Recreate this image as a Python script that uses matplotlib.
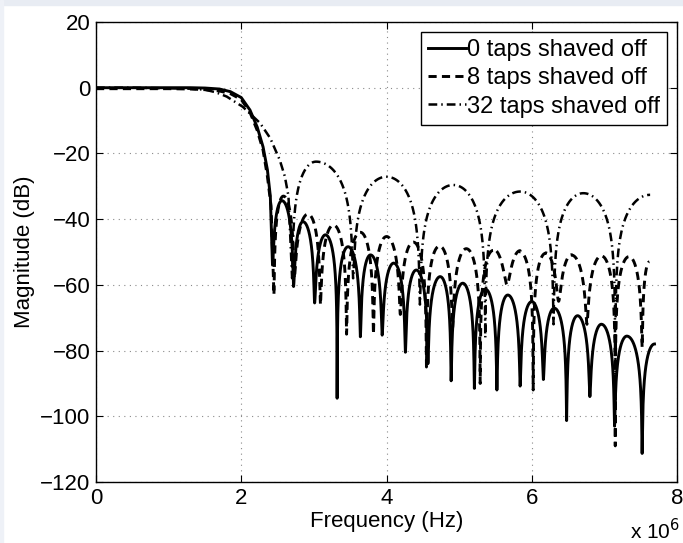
import numpy as np
import matplotlib.pyplot as plt
from matplotlib.patches import Rectangle

plt.rcParams['font.family'] = ['Liberation Sans', 'DejaVu Sans']

# frequency in units of 1e6 Hz, magnitude in dB
# --- 0 taps shaved off (solid)
t0_pass_f = [0, 0.5, 1.0, 1.3, 1.5, 1.7, 1.85, 2.0, 2.12, 2.22, 2.3, 2.36, 2.4]
t0_pass_db = [0, 0, 0, 0, -0.1, -0.4, -1.2, -3.0, -6.8, -12, -18, -25, -33]
t0_null_f = [2.43, 2.72, 3.01, 3.32, 3.64, 3.94, 4.26, 4.57, 4.89, 5.21, 5.52,
             5.84, 6.16, 6.48, 6.80, 7.14, 7.52]
t0_null_db = [-54, -60.5, -65.5, -94.5, -75.8, -75.3, -80.5, -84, -89.2, -91.5,
              -92, -90.8, -88.8, -101.3, -94, -103, -111.3]
t0_peak_f = [2.56, 2.85, 3.16, 3.47, 3.78, 4.10, 4.41, 4.74, 5.05, 5.36, 5.67,
             6.00, 6.31, 6.63, 6.96, 7.31, 7.69]
t0_peak_db = [-34.4, -40.8, -44.8, -48.4, -50.9, -53.4, -55.5, -57.5, -59.5,
              -61.3, -63.1, -65.1, -67.1, -69.4, -72, -75.6, -78]

# --- 8 taps shaved off (dashed)
t8_pass_f = [0, 0.5, 1.0, 1.3, 1.5, 1.7, 1.85, 2.0, 2.12, 2.22, 2.3, 2.36, 2.41]
t8_pass_db = [-0.3, -0.3, -0.3, -0.4, -0.6, -1.0, -1.8, -3.6, -7.5, -13, -19,
              -27, -36]
t8_null_f = [2.45, 2.73, 3.09, 3.45, 3.82, 4.19, 4.55, 4.91, 5.29, 5.66, 6.02,
             6.37, 6.76, 7.15, 7.52]
t8_null_db = [-63, -58, -66, -75, -75, -69, -85, -73, -90, -60, -92, -65, -72,
              -109, -79]
t8_peak_f = [2.58, 2.92, 3.27, 3.64, 4.0, 4.37, 4.73, 5.1, 5.47, 5.84, 6.19,
             6.55, 6.96, 7.34, 7.62]
t8_peak_db = [-33, -38.5, -41.8, -44, -45.3, -47, -48.2, -49, -49.5, -50, -50.4,
              -51, -51.2, -51.4, -53]

# --- 32 taps shaved off (dash-dot)
t32_pass_f = [0, 0.5, 1.0, 1.3, 1.5, 1.65, 1.8, 2.02, 2.26, 2.40, 2.53, 2.60, 2.65]
t32_pass_db = [0, 0, -0.2, -0.3, -0.6, -1.4, -2.7, -5.8, -10.8, -15.4, -22, -27, -33]
t32_null_f = [2.70, 3.54, 4.46, 5.36, 6.30, 7.15]
t32_null_db = [-58, -58, -66, -76, -72, -95]
t32_peak_f = [3.03, 4.0, 4.92, 5.84, 6.71, 7.63]
t32_peak_db = [-22.5, -27.1, -29.6, -31.6, -32.1, -32.6]

labels = ['0 taps shaved off', '8 taps shaved off', '32 taps shaved off']


def lobe_shape(t, top, floor):
    s = np.abs(np.sin(np.pi * t))
    return 10 * np.log10((s * 10 ** (top / 20)) ** 2 + 10 ** (floor / 10))


def build(pass_f, pass_db, null_f, null_db, peak_f, peak_db, n=80):
    fs = [np.array(pass_f, float)]
    ds = [np.array(pass_db, float)]
    for i in range(len(peak_f)):
        a, p = null_f[i], peak_f[i]
        f = np.linspace(a, p, n)
        fs.append(f)
        ds.append(lobe_shape(0.5 * (f - a) / (p - a), peak_db[i], null_db[i]))
        if i + 1 < len(null_f):
            b = null_f[i + 1]
            f = np.linspace(p, b, n)[1:]
            fs.append(f)
            ds.append(lobe_shape(0.5 + 0.5 * (f - p) / (b - p), peak_db[i],
                                 null_db[i + 1]))
    return np.concatenate(fs), np.concatenate(ds)


fig = plt.figure(figsize=(6.83, 5.43), dpi=100)
# faint bluish page edge seen in the screenshot
fig.patches.append(Rectangle((0, 1 - 5 / 543), 1, 5 / 543, transform=fig.transFigure,
                             color='#e8ecf3', zorder=0))
fig.patches.append(Rectangle((0, 0), 3 / 683, 1, transform=fig.transFigure,
                             color='#eef1f7', zorder=0))

ax = fig.add_axes([0.1406, 0.1123, 0.8506, 0.8472])

f0, d0 = build(t0_pass_f, t0_pass_db, t0_null_f, t0_null_db, t0_peak_f, t0_peak_db)
f8, d8 = build(t8_pass_f, t8_pass_db, t8_null_f, t8_null_db, t8_peak_f, t8_peak_db)
f32, d32 = build(t32_pass_f, t32_pass_db, t32_null_f, t32_null_db,
                 t32_peak_f, t32_peak_db)

ax.plot(f0, d0, color='k', lw=2.1, ls='-', label=labels[0])
ax.plot(f8, d8, color='k', lw=2.1, ls=(0, (2.8, 1.8)), label=labels[1])
ax.plot(f32, d32, color='k', lw=1.8, ls=(0, (3.5, 1.6, 0.6, 1.6)), label=labels[2])

ax.set_xlim(0, 8)
ax.set_ylim(-120, 20)
ax.set_xticks([0, 2, 4, 6, 8])
ax.set_yticks(np.arange(-120, 21, 20))
ax.grid(True, color='#8a8a8a', ls=(0, (1, 4)), lw=0.8)
ax.tick_params(direction='in', length=5, width=0.8, top=True, right=True,
               labelsize=16, pad=4)
for sp in ax.spines.values():
    sp.set_linewidth(1.0)

ax.set_xlabel('Frequency (Hz)', fontsize=16, labelpad=2)
ax.set_ylabel('Magnitude (dB)', fontsize=16, labelpad=4)
fig.text(0.995, 0.0, r'x 10$^6$', fontsize=15, ha='right', va='bottom')

leg = ax.legend(loc='upper right', fontsize=17, frameon=True, fancybox=False,
                edgecolor='k', framealpha=1, handlelength=1.6,
                handletextpad=0.05, labelspacing=0.27, borderaxespad=0.42,
                borderpad=0.3)
leg.get_frame().set_linewidth(1.0)

fig.savefig('out.png', dpi=100)
